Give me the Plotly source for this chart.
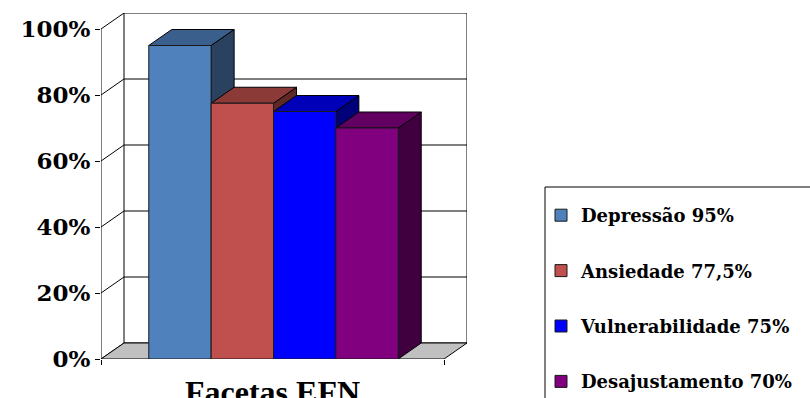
import plotly.graph_objects as go

# Facet scores
facets = ["Depressão", "Ansiedade", "Vulnerabilidade", "Desajustamento"]
values = [95, 77.5, 75, 70]
value_labels = ["95%", "77,5%", "75%", "70%"]
axis_title = "Facetas EFN"
y_ticks = [0, 20, 40, 60, 80, 100]
y_tick_labels = ["0%", "20%", "40%", "60%", "80%", "100%"]

# Face colours: front, top (lit), side (shaded)
front_colors = ["#4F81BD", "#C0504D", "#0000FF", "#800080"]
top_colors = ["#3A5F8C", "#8C3A38", "#0000B8", "#620062"]
side_colors = ["#2A4260", "#5E2826", "#00007A", "#400040"]

# Pseudo-3D geometry (data units)
W, H = 810, 398
M_L, M_R, M_T, M_B = 101, 343, 13, 39
XL, XR = -1.266, 4.234          # front plane extent along x
DEPTH_PX = (23, 16)             # receding offset in pixels
plot_w = W - M_L - M_R
plot_h = H - M_T - M_B

# axis ranges include the depth offset
dx_px, dy_px = DEPTH_PX
x_unit = (plot_w - dx_px) / (XR - XL)           # px per x unit
DX = dx_px / x_unit
x_range = [XL, XR + DX]
y_unit = (plot_h - dy_px) / 100.0               # px per percent
DY = dy_px / y_unit
y_range = [0, 100 + DY]

FONT = "DejaVu Serif"
EDGE = dict(color="black", width=1)

fig = go.Figure()
shapes = []

# back wall with gridlines
shapes.append(dict(type="rect", xref="x", yref="y", x0=XL + DX, x1=XR + DX,
                   y0=DY, y1=100 + DY, line=EDGE, fillcolor="white", layer="below"))
for v in y_ticks[1:-1]:
    shapes.append(dict(type="line", xref="x", yref="y", x0=XL + DX, x1=XR + DX,
                       y0=v + DY, y1=v + DY, line=EDGE, layer="below"))

# left side wall
shapes.append(dict(type="line", xref="x", yref="y", x0=XL, x1=XL, y0=0, y1=100,
                   line=EDGE, layer="below"))
for v in y_ticks:
    shapes.append(dict(type="line", xref="x", yref="y", x0=XL, x1=XL + DX,
                       y0=v, y1=v + DY, line=EDGE, layer="below"))

# floor
shapes.append(dict(type="path", xref="x", yref="y",
                   path=f"M{XL},0 L{XR},0 L{XR + DX},{DY} L{XL + DX},{DY} Z",
                   fillcolor="#C0C0C0", line=EDGE, layer="below"))

# side and top faces of each bar, left to right
for i, v in enumerate(values):
    x0, x1 = i - 0.5, i + 0.5
    shapes.append(dict(type="path", xref="x", yref="y",
                       path=f"M{x1},0 L{x1 + DX},{DY} L{x1 + DX},{v + DY} L{x1},{v} Z",
                       fillcolor=side_colors[i], line=EDGE, layer="below"))
    shapes.append(dict(type="path", xref="x", yref="y",
                       path=f"M{x0},{v} L{x1},{v} L{x1 + DX},{v + DY} L{x0 + DX},{v + DY} Z",
                       fillcolor=top_colors[i], line=EDGE, layer="below"))

# front faces
for i, (name, v) in enumerate(zip(facets, values)):
    fig.add_trace(go.Bar(
        x=[i], y=[v], width=1,
        name=f"{name} {value_labels[i]}",
        legendgroup=name,
        marker=dict(color=front_colors[i], line=dict(color="#1a1a1a", width=1)),
        hoverinfo="skip",
    ))

# legend frame
def px_x(p):
    return (p - M_L) / plot_w

def px_y(p):
    return (H - M_B - p) / plot_h

shapes.append(dict(type="rect", xref="paper", yref="paper",
                   x0=px_x(545), x1=px_x(830), y0=px_y(420), y1=px_y(187),
                   line=dict(color="black", width=1), fillcolor="rgba(0,0,0,0)"))

fig.update_layout(
    width=W, height=H,
    margin=dict(l=M_L, r=M_R, t=M_T, b=M_B, autoexpand=False),
    paper_bgcolor="white", plot_bgcolor="white",
    barmode="overlay",
    showlegend=True,
    shapes=shapes,
    xaxis=dict(range=x_range, showgrid=False, zeroline=False, showline=False,
               tickvals=[XL, XR], ticks="outside", ticklen=5, tickcolor="black",
               showticklabels=False, fixedrange=True),
    yaxis=dict(range=y_range, showgrid=False, zeroline=False, showline=False,
               tickvals=y_ticks, ticktext=y_tick_labels, ticks="outside",
               ticklen=5, tickcolor="black",
               tickfont=dict(family=FONT, size=23, color="black", weight="bold"),
               fixedrange=True),
    legend=dict(x=px_x(541), y=px_y(197), xanchor="left", yanchor="top",
                bgcolor="rgba(0,0,0,0)", borderwidth=0,
                tracegroupgap=29, itemwidth=30,
                font=dict(family=FONT, size=18, color="black", weight="bold")),
    annotations=[dict(text=axis_title, xref="x", yref="paper",
                      x=(XL + XR) / 2, y=px_y(372), xanchor="center", yanchor="top",
                      showarrow=False,
                      font=dict(family="Liberation Serif", size=32, color="black",
                                weight="bold"))],
)

fig.write_html("out.html")
